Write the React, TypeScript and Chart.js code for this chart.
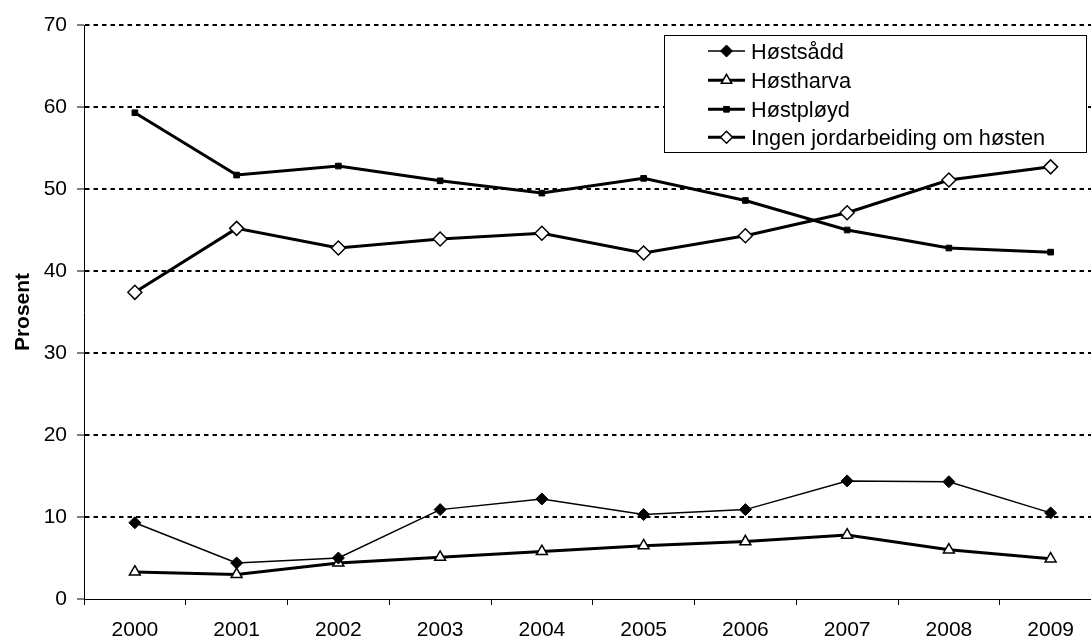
import React, { useEffect, useRef } from "react";
import { Chart, registerables } from "chart.js";

Chart.register(...registerables);

const years = ["2000", "2001", "2002", "2003", "2004", "2005", "2006", "2007", "2008", "2009"];
const hostsadd = [9.3, 4.4, 5.0, 10.9, 12.2, 10.3, 10.9, 14.4, 14.3, 10.5];
const hostharva = [3.3, 3.0, 4.4, 5.1, 5.8, 6.5, 7.0, 7.8, 6.0, 4.9];
const hostployd = [59.3, 51.7, 52.8, 51.0, 49.5, 51.3, 48.6, 45.0, 42.8, 42.3];
const ingen = [37.4, 45.2, 42.8, 43.9, 44.6, 42.2, 44.3, 47.1, 51.1, 52.7];
const seriesNames = ["Høstsådd", "Høstharva", "Høstpløyd", "Ingen jordarbeiding om høsten"];
const yTitle = "Prosent";

const FONT = '"Liberation Sans", Arial, sans-serif';

function drawMarker(ctx: CanvasRenderingContext2D, style: string, x: number, y: number, r: number, fill: string, stroke: string, bw: number) {
  ctx.beginPath();
  if (style === "rectRot") {
    ctx.moveTo(x - r, y);
    ctx.lineTo(x, y - r);
    ctx.lineTo(x + r, y);
    ctx.lineTo(x, y + r);
    ctx.closePath();
  } else if (style === "triangle") {
    for (let i = 0; i < 3; i++) {
      const a = (i * 2 * Math.PI) / 3;
      const px = x + Math.sin(a) * r;
      const py = y - Math.cos(a) * r;
      if (i === 0) ctx.moveTo(px, py);
      else ctx.lineTo(px, py);
    }
    ctx.closePath();
  } else {
    const s = r * Math.SQRT1_2;
    ctx.rect(x - s, y - s, 2 * s, 2 * s);
  }
  ctx.fillStyle = fill;
  ctx.fill();
  ctx.lineWidth = bw;
  ctx.strokeStyle = stroke;
  ctx.stroke();
}

const boxLegend = {
  id: "boxLegend",
  afterDatasetsDraw(chart: any) {
    const ctx: CanvasRenderingContext2D = chart.ctx;
    ctx.save();
    const x0 = 664.5, y0 = 35.5, w = 422, h = 117;
    ctx.setLineDash([]);
    ctx.fillStyle = "#fff";
    ctx.fillRect(x0, y0, w, h);
    ctx.strokeStyle = "#000";
    ctx.lineWidth = 1;
    ctx.strokeRect(x0, y0, w, h);
    const rows = [51, 80.3, 109.3, 137.3];
    ctx.font = `21.7px ${FONT}`;
    ctx.textAlign = "left";
    ctx.textBaseline = "alphabetic";
    chart.data.datasets.forEach((ds: any, i: number) => {
      const y = rows[i];
      ctx.beginPath();
      ctx.moveTo(708, y);
      ctx.lineTo(745, y);
      ctx.lineWidth = ds.borderWidth;
      ctx.strokeStyle = ds.borderColor;
      ctx.stroke();
      drawMarker(ctx, ds.pointStyle, 726.5, y, Math.min(ds.pointRadius, 6), ds.pointBackgroundColor, ds.pointBorderColor, ds.pointBorderWidth);
      ctx.fillStyle = "#000";
      ctx.fillText(ds.label, 751, y + 7.6);
    });
    ctx.restore();
  },
};

export default function App() {
  const ref = useRef<HTMLCanvasElement>(null);
  useEffect(() => {
    if (!ref.current) return;
    const chart = new Chart(ref.current, {
      type: "line",
      data: {
        labels: years,
        datasets: [
          {
            label: seriesNames[0],
            data: hostsadd,
            borderColor: "#000",
            borderWidth: 1.5,
            pointStyle: "rectRot",
            pointRadius: 6,
            pointBackgroundColor: "#000",
            pointBorderColor: "#000",
            pointBorderWidth: 1,
            tension: 0,
          },
          {
            label: seriesNames[1],
            data: hostharva,
            borderColor: "#000",
            borderWidth: 3,
            pointStyle: "triangle",
            pointRadius: 6.3,
            pointBackgroundColor: "#fff",
            pointBorderColor: "#000",
            pointBorderWidth: 1.5,
            tension: 0,
          },
          {
            label: seriesNames[2],
            data: hostployd,
            borderColor: "#000",
            borderWidth: 3,
            pointStyle: "rect",
            pointRadius: 4,
            pointBackgroundColor: "#000",
            pointBorderColor: "#000",
            pointBorderWidth: 1,
            tension: 0,
          },
          {
            label: seriesNames[3],
            data: ingen,
            borderColor: "#000",
            borderWidth: 3,
            pointStyle: "rectRot",
            pointRadius: 7,
            pointBackgroundColor: "#fff",
            pointBorderColor: "#000",
            pointBorderWidth: 1.5,
            tension: 0,
          },
        ],
      } as any,
      options: {
        animation: false,
        responsive: false,
        layout: { padding: { top: 25, right: 6, left: 0, bottom: 0 } },
        plugins: { legend: { display: false }, tooltip: { enabled: false } },
        font: { family: FONT, size: 21 },
        scales: {
          x: {
            type: "category",
            offset: true,
            afterFit: (s: any) => { s.height = 41; },
            grid: {
              offset: true,
              drawOnChartArea: false,
              drawTicks: true,
              tickLength: 6,
              tickColor: "#000",
              tickWidth: 1,
              color: "#000",
            },
            border: { display: true, color: "#000", width: 1 },
            ticks: {
              color: "#000",
              padding: 13,
              maxRotation: 0,
              autoSkip: false,
              font: { family: FONT, size: 21 },
            },
          },
          y: {
            min: 0,
            max: 70,
            afterFit: (s: any) => { s.width = 84; },
            ticks: {
              stepSize: 10,
              color: "#000",
              padding: 10,
              font: { family: FONT, size: 21 },
            },
            grid: {
              color: (c: any) => (c.tick && c.tick.value === 0 ? "rgba(0,0,0,0)" : "#000"),
              lineWidth: 2,
              tickLength: 7,
              tickColor: "#000",
              tickWidth: 1,
            },
            border: { display: true, color: "#000", width: 1, dash: [4.5, 4] },
            title: {
              display: true,
              text: yTitle,
              color: "#000",
              font: { family: FONT, size: 21, weight: "bold" },
              padding: { top: 11, bottom: 0 },
            },
          },
        },
      } as any,
      plugins: [boxLegend],
    });
    return () => chart.destroy();
  }, []);

  return (
    <div style={{ position: "fixed", left: 0, top: 0, width: 1091, height: 640, overflow: "hidden", background: "#fff" }}>
      <canvas ref={ref} width={1110} height={640} style={{ display: "block" }} />
    </div>
  );
}
